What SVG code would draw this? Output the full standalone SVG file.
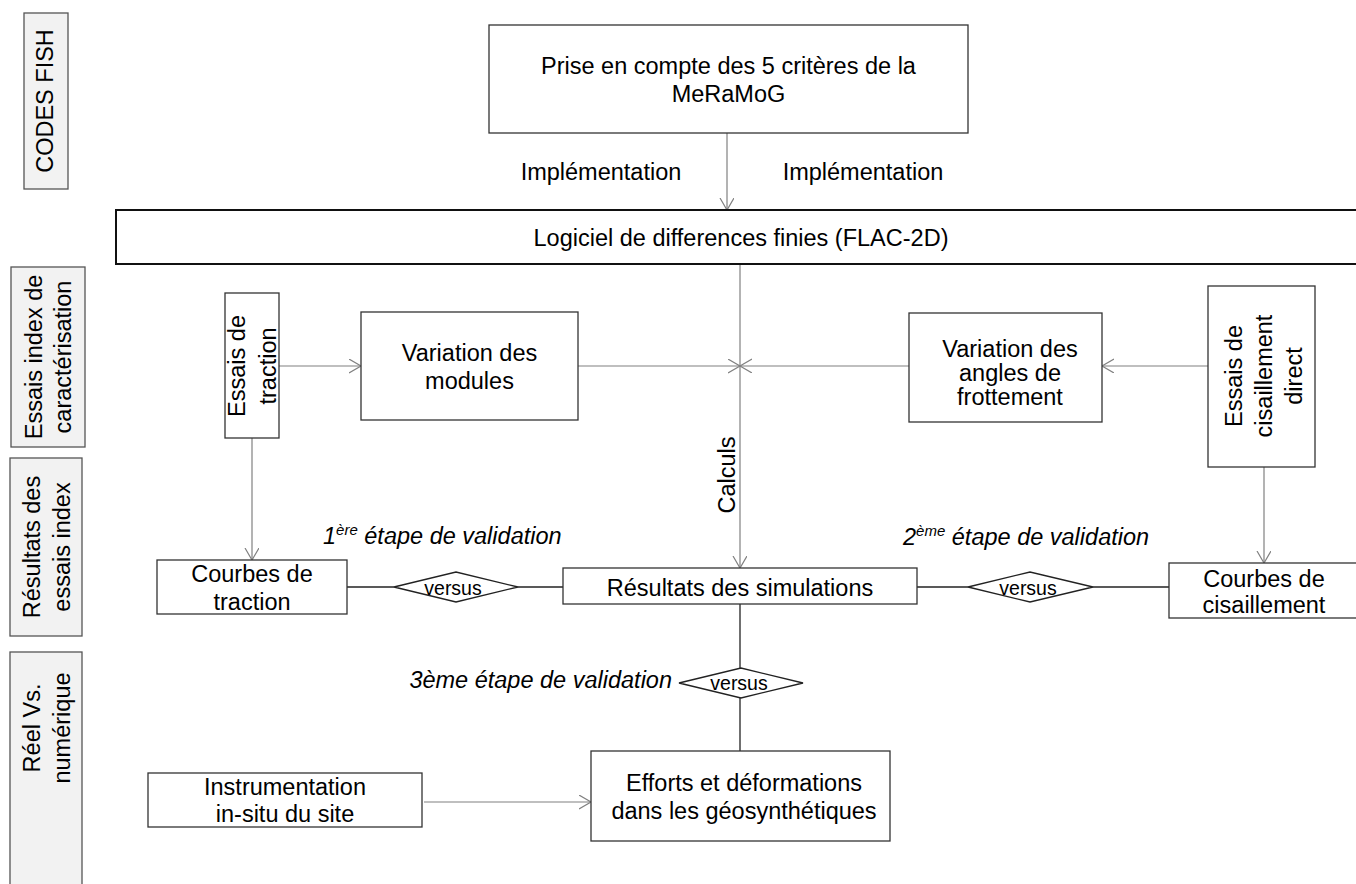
<svg xmlns="http://www.w3.org/2000/svg" width="1356" height="884" viewBox="0 0 1356 884">
<style>
text{font-family:"Liberation Sans",Arial,sans-serif;font-size:23.5px;fill:#000}
.m{text-anchor:middle}
.it{font-style:italic}
.vs{font-size:19.5px;text-anchor:middle}
.lab{fill:#f2f2f2;stroke:#555;stroke-width:1.3}
.box{fill:#fff;stroke:#333;stroke-width:1.3}
.flac{fill:#fff;stroke:#111;stroke-width:2}
.arr{stroke:#808080;stroke-width:1.2;fill:none}
.blk{stroke:#222;stroke-width:1.3;fill:none}
.dia{fill:#fff;stroke:#222;stroke-width:1.3}
</style>
<defs>
<marker id="ah" markerWidth="14" markerHeight="16" refX="12" refY="7" orient="auto" markerUnits="userSpaceOnUse">
<path d="M0,0 L12,7 L0,14" fill="none" stroke="#808080" stroke-width="1.2"/>
</marker>
</defs>
<rect width="1356" height="884" fill="#fff"/>

<g id="label-codes">
<rect class="lab" x="24" y="13" width="44" height="176"/>
<text class="m" transform="translate(53,101) rotate(-90)">CODES FISH</text>
</g>
<g id="label-essais">
<rect class="lab" x="11" y="267" width="74" height="180"/>
<text class="m" transform="translate(42,357) rotate(-90)">Essais index de</text>
<text class="m" transform="translate(71,357) rotate(-90)">caractérisation</text>
</g>
<g id="label-resultats">
<rect class="lab" x="10" y="458" width="72" height="178"/>
<text class="m" transform="translate(40,547) rotate(-90)">Résultats des</text>
<text class="m" transform="translate(70,547) rotate(-90)">essais index</text>
</g>
<g id="label-reel">
<rect class="lab" x="10" y="652" width="72" height="240"/>
<text class="m" transform="translate(40,728) rotate(-90)">Réel Vs.</text>
<text class="m" transform="translate(70,728) rotate(-90)">numérique</text>
</g>

<g id="connectors">
<line class="arr" x1="727" y1="127" x2="727" y2="210" marker-end="url(#ah)"/>
<line class="arr" x1="740" y1="264" x2="740" y2="568" marker-end="url(#ah)"/>
<line class="arr" x1="279" y1="366" x2="361" y2="366" marker-end="url(#ah)"/>
<line class="arr" x1="578" y1="366" x2="740" y2="366" marker-end="url(#ah)"/>
<line class="arr" x1="909" y1="366" x2="740" y2="366" marker-end="url(#ah)"/>
<line class="arr" x1="1208" y1="366" x2="1102" y2="366" marker-end="url(#ah)"/>
<line class="arr" x1="252" y1="438" x2="252" y2="560" marker-end="url(#ah)"/>
<line class="arr" x1="1264" y1="467" x2="1264" y2="563" marker-end="url(#ah)"/>
<line class="arr" x1="424" y1="802" x2="591" y2="802" marker-end="url(#ah)"/>
<line class="blk" x1="347" y1="587" x2="394" y2="587"/>
<line class="blk" x1="518" y1="587" x2="563" y2="587"/>
<line class="blk" x1="917" y1="587" x2="968" y2="587"/>
<line class="blk" x1="1093" y1="587" x2="1169" y2="587"/>
<line class="blk" x1="740" y1="604" x2="740" y2="668"/>
<line class="blk" x1="740" y1="698" x2="740" y2="751"/>
<text x="601" y="180" class="m">Implémentation</text>
<text x="863" y="180" class="m">Implémentation</text>
<text class="m" transform="translate(735,475) rotate(-90)">Calculs</text>
<text x="323" y="544" class="it">1<tspan font-size="15" dy="-9">ère</tspan><tspan dy="9"> étape de validation</tspan></text>
<text x="903" y="545" class="it">2<tspan font-size="15" dy="-9">ème</tspan><tspan dy="9"> étape de validation</tspan></text>
<text x="672" y="688" class="it" text-anchor="end">3ème étape de validation</text>
</g>

<g id="node-prise">
<rect class="box" x="489" y="25" width="479" height="108"/>
<text class="m" x="728.5" y="74">Prise en compte des 5 critères de la</text>
<text class="m" x="728.5" y="102">MeRaMoG</text>
</g>
<g id="node-flac">
<rect class="flac" x="116" y="210" width="1260" height="54"/>
<text class="m" x="741" y="246">Logiciel de differences finies (FLAC-2D)</text>
</g>
<g id="node-essais-traction">
<rect class="box" x="225" y="293" width="54" height="145"/>
<text class="m" transform="translate(245,366) rotate(-90)">Essais de</text>
<text class="m" transform="translate(276,366) rotate(-90)">traction</text>
</g>
<g id="node-var-modules">
<rect class="box" x="361" y="312" width="217" height="108"/>
<text class="m" x="469.5" y="361">Variation des</text>
<text class="m" x="469.5" y="389">modules</text>
</g>
<g id="node-var-angles">
<rect class="box" x="909" y="313" width="193" height="109"/>
<text class="m" x="1010" y="357">Variation des</text>
<text class="m" x="1010" y="381">angles de</text>
<text class="m" x="1010" y="405">frottement</text>
</g>
<g id="node-essais-cisaillement">
<rect class="box" x="1208" y="286" width="107" height="181"/>
<text class="m" transform="translate(1242,376) rotate(-90)">Essais de</text>
<text class="m" transform="translate(1272,376) rotate(-90)">cisaillement</text>
<text class="m" transform="translate(1302,376) rotate(-90)">direct</text>
</g>
<g id="node-courbes-traction">
<rect class="box" x="157" y="560" width="190" height="54"/>
<text class="m" x="252" y="582">Courbes de</text>
<text class="m" x="252" y="610">traction</text>
</g>
<g id="node-versus-1">
<polygon class="dia" points="394,587 456,572 518,587 456,602"/>
<text class="vs" x="453" y="595">versus</text>
</g>
<g id="node-resultats">
<rect class="box" x="563" y="568" width="354" height="36"/>
<text class="m" x="740" y="596">Résultats des simulations</text>
</g>
<g id="node-versus-2">
<polygon class="dia" points="968,587 1030,572 1093,587 1030,602"/>
<text class="vs" x="1028" y="595">versus</text>
</g>
<g id="node-courbes-cisaillement">
<rect class="box" x="1169" y="563" width="200" height="55"/>
<text class="m" x="1264" y="587">Courbes de</text>
<text class="m" x="1264" y="613">cisaillement</text>
</g>
<g id="node-versus-3">
<polygon class="dia" points="679,683 741,668 803,683 741,698"/>
<text class="vs" x="739" y="690">versus</text>
</g>
<g id="node-instrumentation">
<rect class="box" x="148" y="773" width="274" height="54"/>
<text class="m" x="285" y="795">Instrumentation</text>
<text class="m" x="285" y="822">in-situ du site</text>
</g>
<g id="node-efforts">
<rect class="box" x="591" y="751" width="299" height="90"/>
<text class="m" x="744" y="791">Efforts et déformations</text>
<text class="m" x="744" y="819">dans les géosynthétiques</text>
</g>
</svg>
